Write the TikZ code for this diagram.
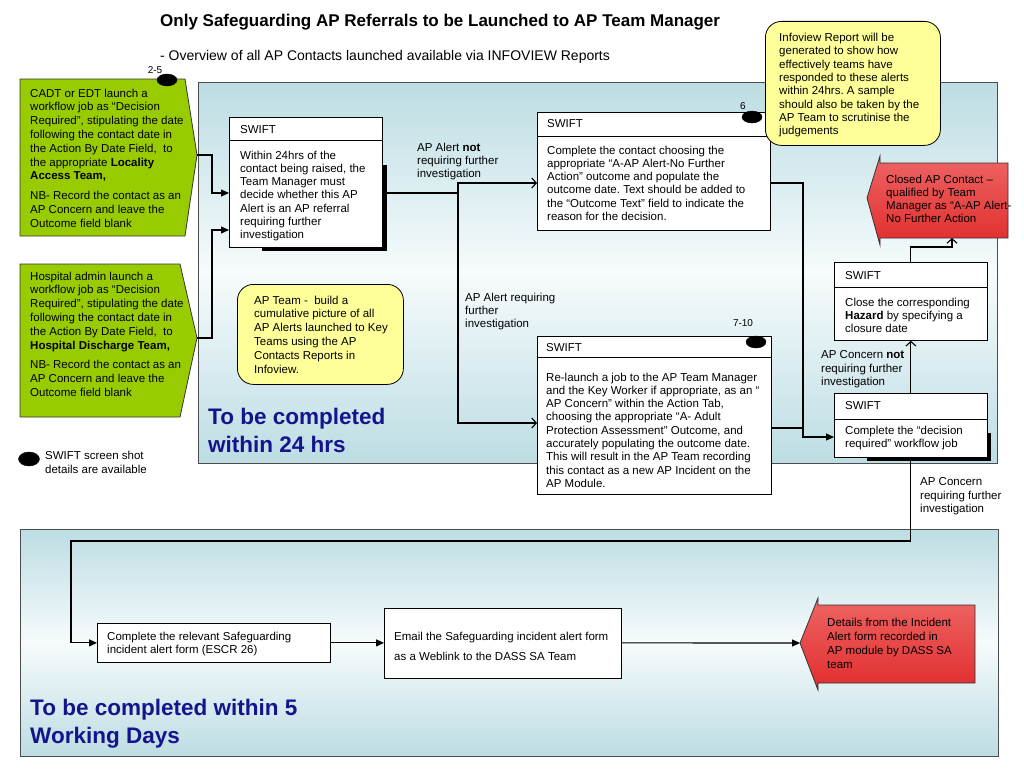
\documentclass[tikz,border=0pt]{standalone}
\usepackage{fontspec}
\setmainfont{Liberation Sans}
\usetikzlibrary{arrows.meta,shapes.geometric}
\definecolor{panel}{RGB}{188,221,227}
\definecolor{panelmid}{RGB}{246,251,252}
\definecolor{lime}{RGB}{153,204,0}
\definecolor{note}{RGB}{255,255,153}
\definecolor{navy}{RGB}{20,20,140}
\definecolor{redtop}{RGB}{238,100,100}
\definecolor{redmid}{RGB}{252,205,205}
\definecolor{redbot}{RGB}{225,45,45}
\frenchspacing
\begin{document}
\begin{tikzpicture}[x=1pt,y=-1pt,
  txt/.style={font=\fontsize{11.5}{13.3}\selectfont, align=left, inner sep=0pt, anchor=north west},
  gtxt/.style={font=\fontsize{11.5}{13.8}\selectfont, align=left, inner sep=0pt, anchor=north west},
  frame/.style={draw=black, line width=0.8pt, fill=white, inner sep=0pt, anchor=north west},
  notebox/.style={draw=black, line width=0.8pt, fill=note, rounded corners=16pt, inner sep=0pt, anchor=north west},
  conn/.style={line width=1.1pt},
  fa/.style={conn, -{Triangle[length=8pt,width=7pt]}},
  oa/.style={conn, -{Straight Barb[length=4.5pt,width=10pt]}},
  dot/.style={fill=black, draw=black, ellipse, minimum width=20pt, minimum height=12pt, inner sep=0pt},
  numlbl/.style={font=\fontsize{10}{12}\selectfont, inner sep=0pt},
  big/.style={font=\fontsize{22.5}{28}\selectfont\bfseries, text=navy, align=left, inner sep=0pt, anchor=north west},
  shadowline/.style={line width=3.2pt},
]
\useasboundingbox (0,0) rectangle (1024,768);
\fill[white] (0,0) rectangle (1024,768);

% panels
\shade[top color=panel, bottom color=panel, middle color=panelmid] (198,82) rectangle (997,463);
\draw[black!70, line width=1pt] (198,82) rectangle (997,463);
\shade[top color=panel, bottom color=panel, middle color=panelmid] (20,529) rectangle (998,756);
\draw[black!70, line width=1pt] (20,529) rectangle (998,756);

% title
\node[font=\fontsize{17}{20}\selectfont\bfseries, anchor=west, inner sep=0pt] (title) at (160,22) {Only Safeguarding AP Referrals to be Launched to AP Team Manager};
\node[font=\fontsize{14}{17}\selectfont, anchor=west, inner sep=0pt] (sub) at (160,57) {- Overview of all AP Contacts launched available via INFOVIEW Reports};

% green boxes
\draw[fill=lime, draw=black!80, line width=0.8pt] (20,79) -- (185,79) -- (197,155) -- (185,236) -- (20,236) -- cycle;
\coordinate (g1tip) at (197,155);
\node[gtxt] (g1) at (30,88.5) {CADT or EDT launch a\\workflow job as “Decision\\Required”, stipulating the date\\following the contact date in\\the Action By Date Field,\ \ to\\the appropriate \textbf{Locality}\\\textbf{Access Team,}\\[6pt]NB- Record the contact as an\\AP Concern and leave the\\Outcome field blank};

\draw[fill=lime, draw=black!80, line width=0.8pt] (20,264) -- (180,264) -- (197,338) -- (180,417) -- (20,417) -- cycle;
\coordinate (g2tip) at (197,338);
\node[gtxt] (g2) at (30,271.5) {Hospital admin launch a\\workflow job as “Decision\\Required”, stipulating the date\\following the contact date in\\the Action By Date Field,\ \ to\\\textbf{Hospital Discharge Team,}\\[6pt]NB- Record the contact as an\\AP Concern and leave the\\Outcome field blank};

% dots
\node[dot] (d1) at (167,80) {};
\node[numlbl] (d1l) at (155,70) {2-5};

% SWIFT 1
\node[frame, minimum width=153pt, minimum height=130pt] (s1) at (229,117) {};
\draw[line width=0.8pt] (s1.west |- 0,140) -- (s1.east |- 0,140);
\draw[shadowline] (385,165) -- (385,249) -- (262,249);
\node[txt] (s1h) at (240,125) {SWIFT};
\node[txt] (s1b) at (240,150.5) {Within 24hrs of the\\contact being raised, the\\Team Manager must\\decide whether this AP\\Alert is an AP referral\\requiring further\\investigation};

% SWIFT 2
\node[frame, minimum width=233pt, minimum height=118pt] (s2) at (537,112) {};
\draw[line width=0.8pt] (s2.west |- 0,136) -- (s2.east |- 0,136);
\node[txt] (s2h) at (547,119.5) {SWIFT};
\node[txt] (s2b) at (547,145.5) {Complete the contact choosing the\\appropriate “A-AP Alert-No Further\\Action” outcome and populate the\\outcome date. Text should be added to\\the “Outcome Text” field to indicate the\\reason for the decision.};
\node[dot] (d2) at (752,117) {};
\node[numlbl] (d2l) at (743,106) {6};

% SWIFT 3
\node[frame, minimum width=234pt, minimum height=158pt] (s3) at (537,336) {};
\draw[line width=0.8pt] (s3.west |- 0,357) -- (s3.east |- 0,357);
\node[txt] (s3h) at (546,343.5) {SWIFT};
\node[txt] (s3b) at (546,372.5) {Re-launch a job to the AP Team Manager\\and the Key Worker if appropriate, as an “\\AP Concern” within the Action Tab,\\choosing the appropriate “A- Adult\\Protection Assessment” Outcome, and\\accurately populating the outcome date.\\This will result in the AP Team recording\\this contact as a new AP Incident on the\\AP Module.};
\node[dot] (d3) at (756,342) {};
\node[numlbl] (d3l) at (743,323) {7-10};

% SWIFT 4
\node[frame, minimum width=153pt, minimum height=78pt] (s4) at (834,262) {};
\draw[line width=0.8pt] (s4.west |- 0,287) -- (s4.east |- 0,287);
\node[txt] (s4h) at (845,271.5) {SWIFT};
\node[txt] (s4b) at (845,297.5) {Close the corresponding\\\textbf{Hazard} by specifying a\\closure date};

% SWIFT 5
\node[frame, minimum width=153pt, minimum height=64pt] (s5) at (834,393) {};
\draw[line width=0.8pt] (s5.west |- 0,419) -- (s5.east |- 0,419);
\draw[shadowline] (989,433) -- (989,459.5) -- (867,459.5);
\node[txt] (s5h) at (845,401.5) {SWIFT};
\node[txt] (s5b) at (845,425.5) {Complete the “decision\\required” workflow job};

% red box 1
\shade[top color=redtop, middle color=redmid, bottom color=redbot] (867,198) -- (880,156) -- (880,163) -- (1008,163) -- (1008,238) -- (880,238) -- (880,245) -- cycle;
\draw[black!80, line width=0.8pt] (867,198) -- (880,156) -- (880,163) -- (1008,163) -- (1008,238) -- (880,238) -- (880,245) -- cycle;
\coordinate (r1b) at (952,238);
\node[txt] (r1) at (886,174.5) {Closed AP Contact –\\qualified by Team\\Manager as “A-AP Alert-\\No Further Action};

% notes
\node[notebox, minimum width=175pt, minimum height=124pt] (info) at (765,21) {};
\node[txt] (infot) at (779,33) {Infoview Report will be\\generated to show how\\effectively teams have\\responded to these alerts\\within 24hrs. A sample\\should also be taken by the\\AP Team to scrutinise the\\judgements};
\node[notebox, minimum width=166pt, minimum height=100pt] (apt) at (237,284) {};
\node[gtxt] (aptt) at (254,295.5) {AP Team -\ \ build a\\cumulative picture of all\\AP Alerts launched to Key\\Teams using the AP\\Contacts Reports in\\Infoview.};

% labels
\node[txt] (l1) at (417,142.5) {AP Alert \textbf{not}\\requiring further\\investigation};
\node[txt] (l2) at (465,292.5) {AP Alert requiring\\further\\investigation};
\node[txt] (l3) at (821,350.5) {AP Concern \textbf{not}\\requiring further\\investigation};
\node[txt] (l4) at (920,477.5) {AP Concern\\requiring further\\investigation};

% big labels
\node[big] (bl1) at (208,408) {To be completed\\within 24 hrs};
\node[big] (bl2) at (30,699) {To be completed within 5\\Working Days};

% legend
\node[dot, minimum width=21pt, minimum height=14pt] (ld) at (29,459) {};
\node[font=\fontsize{11.5}{14}\selectfont, align=left, inner sep=0pt, anchor=north west] (lt) at (45,450.5) {SWIFT screen shot\\details are available};

% bottom boxes
\node[frame, minimum width=233pt, minimum height=39pt] (b1) at (97,623) {};
\node[txt, font=\fontsize{11.5}{13}\selectfont] (b1t) at (107,631.5) {Complete the relevant Safeguarding\\incident alert form (ESCR 26)};
\node[frame, minimum width=237pt, minimum height=70pt] (b2) at (384,608) {};
\node[txt, font=\fontsize{11.5}{20}\selectfont] (b2t) at (394,631.5) {Email the Safeguarding incident alert form\\as a Weblink to the DASS SA Team};
\shade[top color=redtop, middle color=redmid, bottom color=redbot] (800,643) -- (818,598) -- (818,605) -- (975,605) -- (975,683) -- (818,683) -- (818,690) -- cycle;
\draw[black!80, line width=0.8pt] (800,643) -- (818,598) -- (818,605) -- (975,605) -- (975,683) -- (818,683) -- (818,690) -- cycle;
\coordinate (r2tip) at (800,643);
\node[txt, font=\fontsize{11.5}{14}\selectfont] (r2) at (827,617.5) {Details from the Incident\\Alert form recorded in\\AP module by DASS SA\\team};

% connectors
\draw[fa] (g1tip) -- (212,155) |- (s1.west |- 0,193);
\draw[fa] (g2tip) -- (212,338) |- (s1.west |- 0,230);
\draw[conn, line width=1.6pt] (s1.east |- 0,193) -- (458,193) coordinate (j1);
\draw[oa] (j1) |- (s2.west |- 0,183);
\draw[oa] (j1) |- (s3.west |- 0,423);
\draw[fa] (s2.east |- 0,183) -- (803,183) |- (s5.west |- 0,437);
\draw[conn] (s3.east |- 0,428) -- (803,428);
\draw[oa] (s5.north) -- (s4.south);
\draw[oa] (s4.north) -- (s4.north |- 0,247) -| (r1b);
\draw[fa] (s5.south) |- (71,541) |- (b1.west);
\draw[fa] (b1.east) -- (b2.west |- b1.east);
\draw[fa] (b2.east |- b1.east) -- (r2tip);
\end{tikzpicture}
\end{document}
